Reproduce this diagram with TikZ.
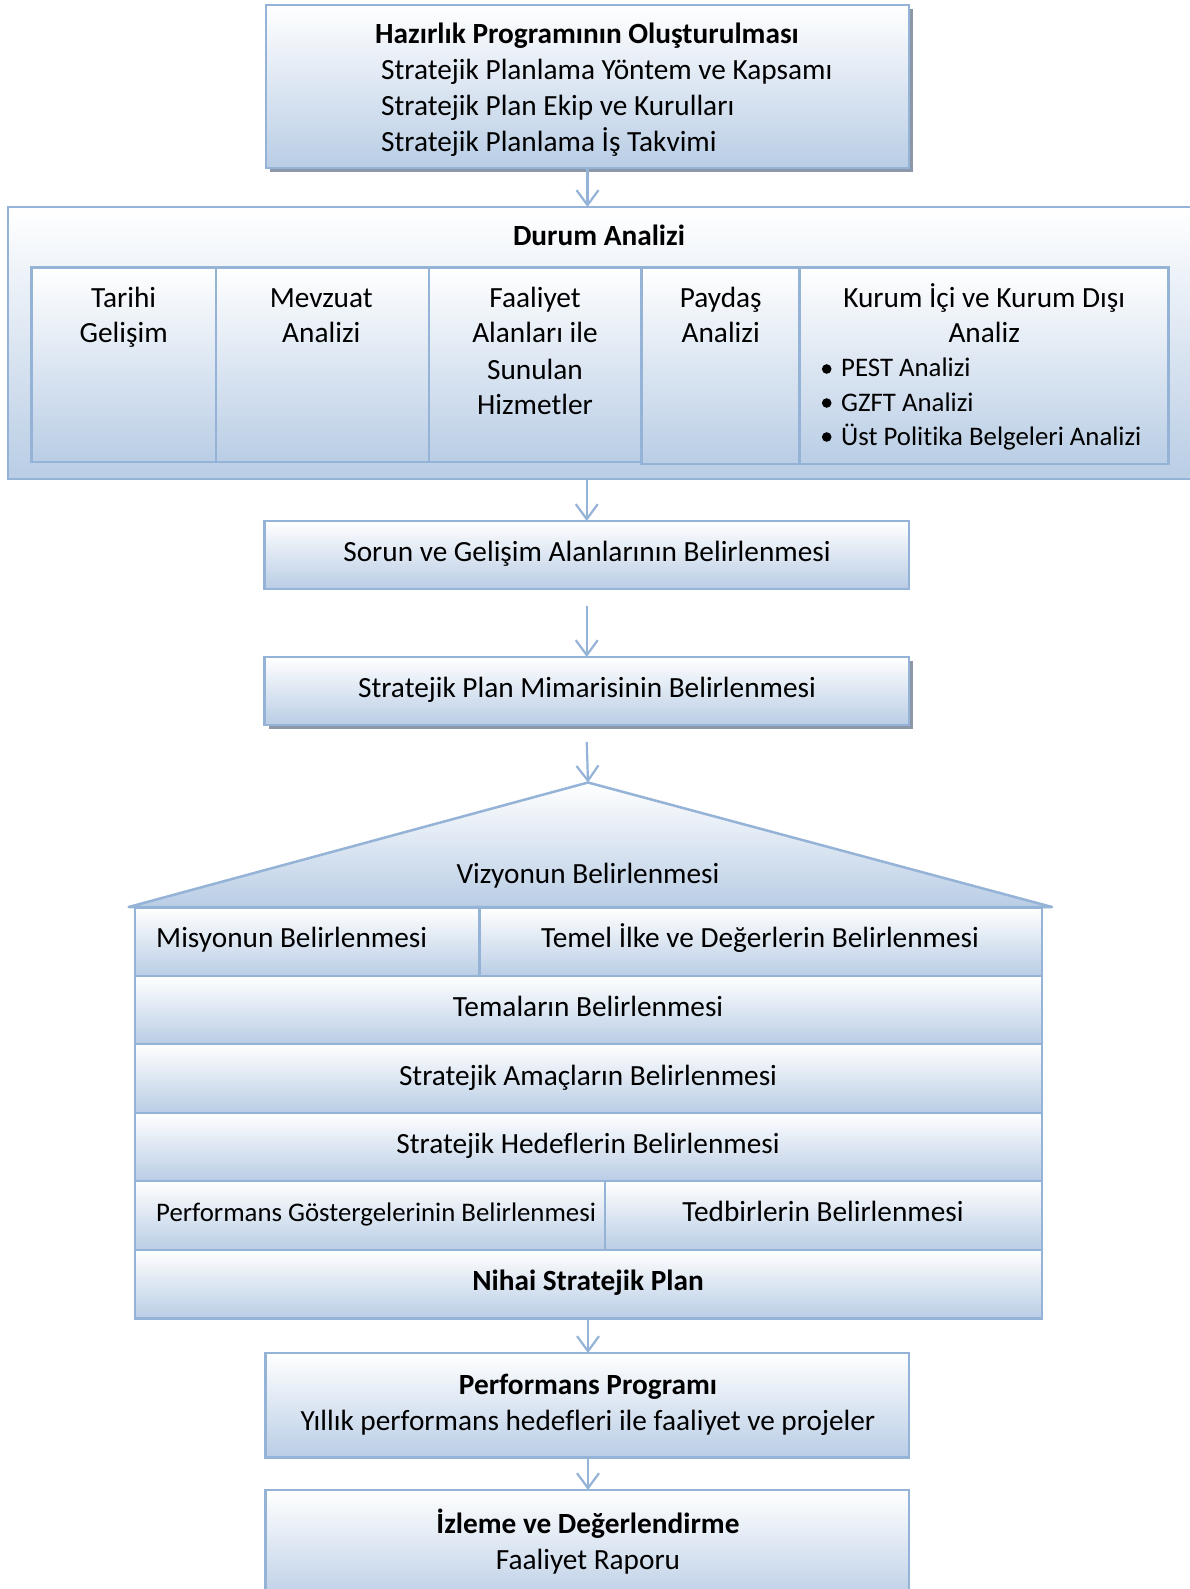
\documentclass[tikz,border=0pt]{standalone}
\usepackage{fontspec}
\setmainfont{Carlito}[Ligatures=NoCommon]
\usetikzlibrary{arrows.meta,shadows}
\definecolor{bdr}{RGB}{149,179,215}
\definecolor{bfill}{RGB}{185,205,229}
\definecolor{shdcol}{RGB}{140,151,168}
\newcommand{\mainfs}{\fontsize{29.3}{35.5}\selectfont}
\newcommand{\smallfs}{\fontsize{26.8}{32}\selectfont}
\begin{document}
\begin{tikzpicture}[x=1pt,y=-1pt,
  box/.style={draw=bdr,line width=2.5pt,top color=white,bottom color=bfill,inner sep=0pt,outer sep=0pt,anchor=north west},
  withshadow/.style={drop shadow={shadow xshift=4pt,shadow yshift=-4pt,fill=shdcol,opacity=1}},
  t/.style={anchor=base,inner sep=0pt,font=\mainfs},
  arr/.style={draw=bdr,line width=2.2pt,-{Straight Barb[length=15pt,width=22pt]}}]
\useasboundingbox (0,0) rectangle (1189,1589);
\fill[white] (0,0) rectangle (1189,1589);

% preparation box
\node[box,withshadow,minimum width=643pt,minimum height=163pt] (prep) at (266,5) {};
\node[t,anchor=base west] (p1) at (375,43.5) {\bfseries Hazırlık Programının Oluşturulması};
\node[t,anchor=base west] (p2) at (381,80) {Stratejik Planlama Yöntem ve Kapsamı};
\node[t,anchor=base west] (p3) at (381,115.5) {Stratejik Plan Ekip ve Kurulları};
\node[t,anchor=base west] (p4) at (381,152) {Stratejik Planlama İş Takvimi};

% situation analysis
\node[box,minimum width=1187pt,minimum height=272pt] (durum) at (8,207) {};
\node[t] (dt) at (599,246) {\bfseries Durum Analizi};
\node[box,minimum width=184.6pt,minimum height=194.6pt] (c1) at (31.4,267.6) {};
\node[box,minimum width=212.8pt,minimum height=194.6pt] (c2) at (216,267.6) {};
\node[box,minimum width=212.8pt,minimum height=194.6pt] (c3) at (428.8,267.6) {};
\node[box,minimum width=158.1pt,minimum height=196.4pt] (c4) at (641.6,267.6) {};
\node[box,minimum width=369pt,minimum height=196.4pt] (c5) at (799.7,267.6) {};
\node[t] (c1a) at (123.7,307) {Tarihi};
\node[t] (c1b) at (123.7,342.5) {Gelişim};
\node[t] (c2a) at (321.3,307) {Mevzuat};
\node[t] (c2b) at (321.3,342.5) {Analizi};
\node[t] (c3a) at (535,307) {Faaliyet};
\node[t] (c3b) at (535,342.5) {Alanları ile};
\node[t] (c3c) at (535,379) {Sunulan};
\node[t] (c3d) at (535,414.4) {Hizmetler};
\node[t] (c4a) at (720.7,307) {Paydaş};
\node[t] (c4b) at (720.7,342.5) {Analizi};
\node[t] (c5a) at (984.2,307) {Kurum İçi ve Kurum Dışı};
\node[t] (c5b) at (984.2,342.5) {Analiz};
\fill (826.7,369) circle (4.8pt);
\fill (826.7,403) circle (4.8pt);
\fill (826.7,437) circle (4.8pt);
\node[t,anchor=base west,font=\smallfs] (c5c) at (841,376.7) {PEST Analizi};
\node[t,anchor=base west,font=\smallfs] (c5d) at (841,411) {GZFT Analizi};
\node[t,anchor=base west,font=\smallfs] (c5e) at (841,445) {Üst Politika Belgeleri Analizi};

% problem areas
\node[box,minimum width=644.5pt,minimum height=68pt] (sorun) at (264.5,521) {};
\node[t] (st) at (587,561.4) {Sorun ve Gelişim Alanlarının Belirlenmesi};

% architecture
\node[box,withshadow,minimum width=644.5pt,minimum height=68pt] (mimari) at (264.5,657) {};
\node[t] (mt) at (587,697) {Stratejik Plan Mimarisinin Belirlenmesi};

% roof
\coordinate (apex) at (588,782.5);
\coordinate (bl) at (128.7,907);
\coordinate (br) at (1052,907);
\shade[top color=white,bottom color=bfill] (apex) -- (br) -- (bl) -- cycle;
\draw[bdr,line width=2.5pt,line join=round] (bl) -- (apex) -- (br) -- cycle;
\node[t] (vt) at (588,883.7) {Vizyonun Belirlenmesi};

% rows
\node[box,minimum width=344.6pt,minimum height=67.8pt] (r1a) at (134.8,908.2) {};
\node[box,minimum width=562.6pt,minimum height=67.8pt] (r1b) at (479.4,908.2) {};
\node[box,minimum width=907.2pt,minimum height=68pt] (r2) at (134.8,976) {};
\node[box,minimum width=907.2pt,minimum height=69pt] (r3) at (134.8,1044) {};
\node[box,minimum width=907.2pt,minimum height=68pt] (r4) at (134.8,1113) {};
\node[box,minimum width=470.2pt,minimum height=69pt] (r5a) at (134.8,1181) {};
\node[box,minimum width=437pt,minimum height=69pt] (r5b) at (605,1181) {};
\node[box,minimum width=907.2pt,minimum height=68.7pt] (r6) at (134.8,1250) {};
\node[t,anchor=base west] (r1at) at (156,947.6) {Misyonun Belirlenmesi};
\node[t] (r1bt) at (760,947.6) {Temel İlke ve Değerlerin Belirlenmesi};
\node[t] (r2t) at (588,1016.5) {Temaların Belirlenmesi};
\node[t] (r3t) at (588,1085.4) {Stratejik Amaçların Belirlenmesi};
\node[t] (r4t) at (588,1153.3) {Stratejik Hedeflerin Belirlenmesi};
\node[t,anchor=base west,font=\smallfs] (r5at) at (156,1221) {Performans Göstergelerinin Belirlenmesi};
\node[t] (r5bt) at (823,1221) {Tedbirlerin Belirlenmesi};
\node[t] (r6t) at (588,1290) {\bfseries Nihai Stratejik Plan};

% performance programme
\node[box,minimum width=643.4pt,minimum height=104.6pt] (perf) at (265.6,1353) {};
\node[t] (pf1) at (588,1394.6) {\bfseries Performans Programı};
\node[t] (pf2) at (588,1430) {Yıllık performans hedefleri ile faaliyet ve projeler};

% monitoring
\node[box,minimum width=643.4pt,minimum height=115pt] (izle) at (265.6,1490) {};
\node[t] (iz1) at (588,1533.5) {\bfseries İzleme ve Değerlendirme};
\node[t] (iz2) at (588,1569) {Faaliyet Raporu};

% arrows
\draw[arr] (prep.south) -- (prep.south |- durum.north);
\draw[arr] (sorun.north |- durum.south) -- (sorun.north);
\draw[arr] ([yshift=-17pt]sorun.south) -- (mimari.north);
\draw[arr] ([yshift=-17pt]mimari.south) -- (apex);
\draw[arr] (r6.south -| apex) -- (perf.north -| apex);
\draw[arr] (perf.south -| apex) -- (izle.north -| apex);
\end{tikzpicture}
\end{document}
